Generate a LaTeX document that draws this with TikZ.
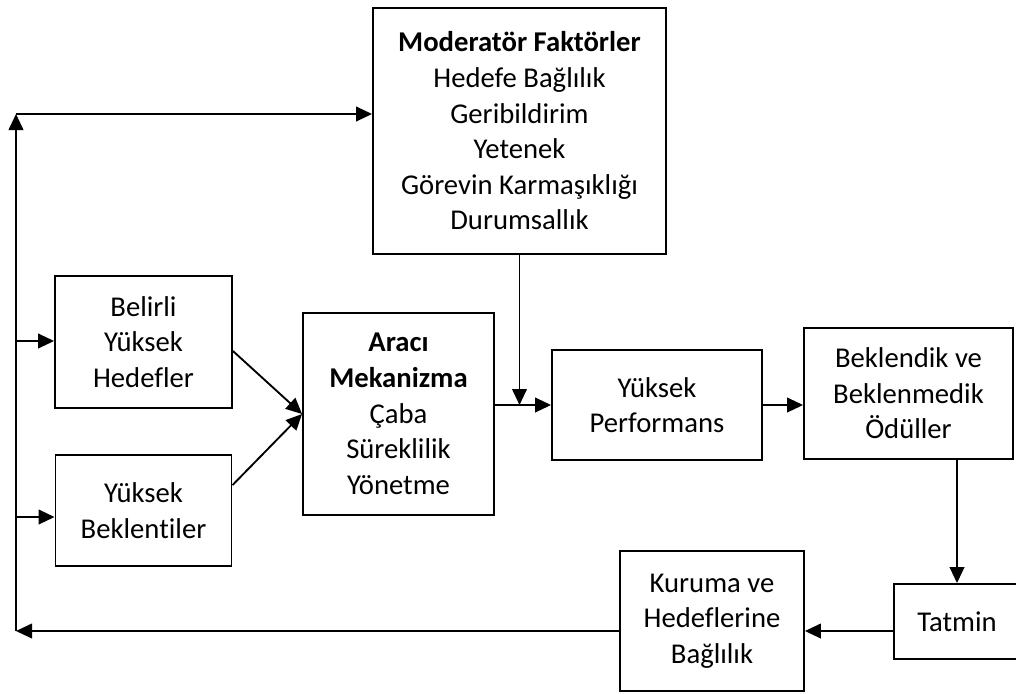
\documentclass[tikz,border=0pt]{standalone}
\usepackage{fontspec}
\setmainfont{Carlito}[Ligatures=NoCommon]
\usetikzlibrary{arrows.meta}
\begin{document}
\begin{tikzpicture}[x=0.75pt,y=-0.75pt,
  box/.style={draw,line width=1.4pt,rectangle,inner sep=0pt,align=center,
    font=\fontsize{21.5}{26.7}\selectfont},
  arr/.style={line width=1.4pt,-{Triangle[length=12pt,width=11pt]}}]
\useasboundingbox (0,0) rectangle (1016,693);
\clip (0,0) rectangle (1016,693);

% boxes
\node[box,minimum width=219.75pt,minimum height=184.5pt] (mod) at (519.5,131)
  {\textbf{Moderatör Faktörler}\\Hedefe Bağlılık\\Geribildirim\\Yetenek\\Görevin Karmaşıklığı\\Durumsallık};
\node[box,minimum width=132.75pt,minimum height=99pt] (hedef) at (143.5,342)
  {Belirli\\Yüksek\\Hedefler};
\node[box,minimum width=132pt,minimum height=83.25pt] (bekle) at (143.5,510.5)
  {Yüksek\\Beklentiler};
\node[box,minimum width=143.25pt,minimum height=151.5pt] (araci) at (398.5,414)
  {\textbf{Aracı}\\\textbf{Mekanizma}\\Çaba\\Süreklilik\\Yönetme};
\node[box,minimum width=157.5pt,minimum height=82.5pt] (perf) at (657,405)
  {Yüksek\\Performans};
\node[box,minimum width=156.75pt,minimum height=98.25pt] (odul) at (908.5,393.5)
  {Beklendik ve\\Beklenmedik\\Ödüller};
\node[box,minimum width=94.5pt,minimum height=56.25pt] (tatmin) at (957,621.5)
  {Tatmin};
\node[box,minimum width=138pt,minimum height=105pt] (kurum) at (712,621)
  {Kuruma ve\\Hedeflerine\\Bağlılık};

% feedback loop
\coordinate (fbL) at (16,631);
\coordinate (fbT) at (16,114);
\coordinate (in1) at (16,341);
\coordinate (in2) at (16,517);
\draw[arr] (tatmin.west |- fbL) -- (kurum.east |- fbL);
\draw[arr] (kurum.west |- fbL) -- (fbL);
\draw[arr] (fbL) -- (fbT);
\draw[arr] (fbT) -- (mod.west |- fbT);
\draw[arr] (in1) -- (hedef.west |- in1);
\draw[arr] (in2) -- (bekle.west |- in2);

% main flow
\draw[arr] ([yshift=-6.75pt]hedef.east) -- (araci.west);
\draw[arr] ([yshift=19pt]bekle.east) -- (araci.west);
\draw[arr] (araci.east |- perf.west) -- (perf.west);
\draw[arr] (mod.south) -- (mod.south |- perf.west);
\draw[arr] (perf.east) -- (odul.west |- perf.east);
\draw[arr] (tatmin.north |- odul.south) -- (tatmin.north);
\end{tikzpicture}
\end{document}
